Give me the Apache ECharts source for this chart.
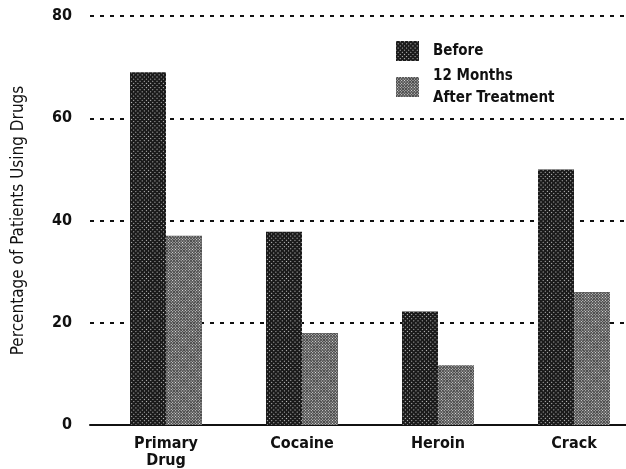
<!DOCTYPE html>
<html><head><meta charset="utf-8">
<script src="https://cdn.jsdelivr.net/npm/echarts@6/dist/echarts.min.js"></script>
<style>html,body{margin:0;padding:0;background:#fff}#c{width:626px;height:469px}</style>
</head><body><div id="c"></div>
<script>
const categories = ['Primary\nDrug', 'Cocaine', 'Heroin', 'Crack'];
const beforeValues = [69, 37.8, 22.2, 50];
const afterValues = [37, 18, 11.7, 26];
const yTicks = [0, 20, 40, 60, 80];
const seriesNames = ['Before', '12 Months\nAfter Treatment'];

const FONT = '"DejaVu Sans Condensed", "Liberation Sans", Arial, sans-serif';
const INK = '#111';
const chart = echarts.init(document.getElementById('c'), null, {renderer: 'canvas'});
chart.setOption({
  animation: false,
  backgroundColor: '#fff',
  grid: [
    {left: 90, right: 0, top: 16, bottom: 44, outerBoundsMode: 'none', containLabel: false},
    {left: 98, width: 544, top: 16, bottom: 44, outerBoundsMode: 'none', containLabel: false}
  ],
  legend: [
    {orient: 'vertical', left: 391, top: 35, itemWidth: 23, itemHeight: 20, icon: 'rect',
     data: [seriesNames[0]],
     textStyle: {fontFamily: FONT, fontWeight: 'bold', fontSize: 15, color: INK, lineHeight: 22, padding: [0, 0, 0, 9]}},
    {orient: 'vertical', left: 391, top: 49, itemWidth: 23, itemHeight: 20, icon: 'rect',
     data: [seriesNames[1]],
     textStyle: {fontFamily: FONT, fontWeight: 'bold', fontSize: 15, color: INK, lineHeight: 22, padding: [22, 0, 0, 9]}}
  ],
  xAxis: [
    {gridIndex: 0, type: 'category', data: categories, axisLine: {show: true, lineStyle: {color: INK, width: 2}},
     axisTick: {show: false}, axisLabel: {show: false}},
    {gridIndex: 1, type: 'category', data: categories, axisLine: {show: false}, axisTick: {show: false},
     axisLabel: {fontFamily: FONT, fontWeight: 'bold', fontSize: 16, color: INK, lineHeight: 17, margin: 10}}
  ],
  yAxis: [
    {gridIndex: 0, type: 'value', min: 0, max: 80, interval: 20,
     name: 'Percentage of Patients Using Drugs', nameLocation: 'middle', nameGap: 63,
     nameTextStyle: {fontFamily: FONT, fontSize: 17, color: INK},
     axisLine: {show: false}, axisTick: {show: false},
     axisLabel: {fontFamily: FONT, fontWeight: 'bold', fontSize: 16, color: INK, margin: 18,
       formatter: v => yTicks.includes(v) ? String(v) : ''},
     splitLine: {show: true, lineStyle: {color: INK, width: 2, type: [4, 6]}}},
    {gridIndex: 1, type: 'value', min: 0, max: 80, interval: 20, show: false, splitLine: {show: false}}
  ],
  series: [
    {name: seriesNames[0], type: 'bar', xAxisIndex: 1, yAxisIndex: 1, data: beforeValues,
     barWidth: 36, barGap: '0%', z: 3,
     itemStyle: {color: '#1a1a1a',
       decal: {symbol: 'rect', symbolSize: 1, color: 'rgba(255,255,255,0.75)', dashArrayX: [1, 2], dashArrayY: [1, 2], rotation: 0.785}}},
    {name: seriesNames[1], type: 'bar', xAxisIndex: 1, yAxisIndex: 1, data: afterValues,
     barWidth: 36, barGap: '0%', z: 3,
     itemStyle: {color: '#4a4a4a',
       decal: {symbol: 'rect', symbolSize: 1, color: 'rgba(255,255,255,0.85)', dashArrayX: [1, 1], dashArrayY: [1, 1], rotation: 0.785}}}
  ]
});
</script></body></html>
